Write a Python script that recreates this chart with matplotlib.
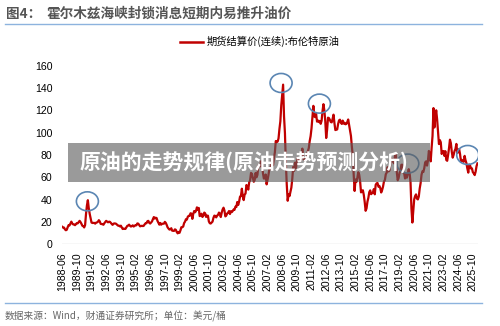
import matplotlib
matplotlib.use("Agg")
import numpy as np
import matplotlib.pyplot as plt
from matplotlib.patches import Ellipse, Rectangle
from matplotlib.lines import Line2D

plt.rcParams['font.family'] = ['Liberation Sans', 'Noto Sans CJK SC', 'DejaVu Sans']
CJK = ['Noto Sans CJK SC', 'DejaVu Sans']

# monthly Brent settlement, starting 1988-06 (USD/bbl)
brent_1988_1999 = [
    15.7, 14.9, 15.0, 13.4, 12.6, 13.0, 15.3,
    17.2, 16.9, 18.7, 20.3, 18.6, 17.8, 17.8, 17.1, 18.0, 19.0, 18.8, 19.9,
    21.0, 19.9, 18.4, 16.6, 16.3, 15.1, 17.2, 27.2, 34.9, 39.5, 32.3, 27.3,
    23.6, 19.5, 19.1, 19.2, 19.2, 18.5, 19.4, 19.6, 20.2, 21.6, 20.5, 18.3,
    18.2, 18.0, 17.5, 18.9, 19.9, 21.0, 20.3, 19.7, 20.2, 20.2, 19.2, 18.3,
    17.4, 18.5, 18.7, 18.6, 18.3, 17.4, 16.7, 16.7, 16.0, 16.7, 15.1, 13.7,
    14.1, 13.8, 13.8, 15.1, 16.5, 16.8, 17.6, 16.6, 15.9, 16.3, 17.0, 15.9,
    16.6, 17.2, 17.0, 18.7, 18.5, 17.3, 16.1, 16.3, 16.6, 16.3, 16.6, 17.9,
    18.9, 18.9, 20.7, 21.0, 19.2, 18.6, 19.6, 20.5, 22.6, 24.4, 23.0, 23.8,
    23.5, 20.9, 19.2, 17.6, 19.1, 17.6, 18.4, 18.5, 18.5, 20.1, 19.2, 17.4,
    15.2, 14.1, 13.2, 13.4, 14.4, 12.2, 12.1, 12.0, 13.4, 12.9, 11.0, 9.8,
    11.1, 10.3, 12.5, 15.3, 15.3, 15.9, 19.0, 20.3, 22.5, 22.1, 24.6, 25.5,
]
brent_2000_2009 = [
    25.5, 27.8, 27.5, 22.8, 27.3, 29.8, 28.7, 30.0, 33.1, 30.9, 32.6, 25.3,
    25.7, 27.4, 24.5, 25.7, 28.4, 27.7, 24.5, 25.7, 25.6, 20.5, 18.9, 18.6,
    19.4, 20.3, 23.7, 25.7, 25.4, 24.1, 25.7, 26.3, 28.4, 27.5, 24.4, 28.3,
    31.2, 32.8, 30.3, 25.0, 25.8, 27.6, 28.4, 29.8, 27.1, 29.6, 28.8, 29.8,
    31.2, 30.9, 33.8, 33.4, 37.9, 35.2, 38.2, 42.7, 43.2, 49.8, 43.1, 39.6,
    44.5, 45.5, 53.1, 51.9, 49.0, 55.6, 57.1, 63.9, 63.1, 59.5, 56.0, 57.6,
    63.9, 60.0, 62.3, 70.4, 70.9, 69.8, 74.4, 73.0, 63.8, 58.9, 59.1, 62.5,
    53.7, 57.6, 62.1, 67.4, 67.5, 71.3, 77.2, 70.8, 77.1, 82.3, 92.5, 91.5,
    92.0, 94.8, 103.3, 110.2, 124.6, 133.5, 143.0, 114.6, 99.6, 72.7, 53.2, 39.0,
    44.9, 43.2, 46.8, 50.8, 58.6, 69.3, 65.8, 73.1, 68.2, 73.9, 77.5, 75.2,
]
brent_2010_2019 = [
    77.0, 74.8, 79.9, 85.7, 77.0, 75.7, 75.6, 77.1, 78.2, 83.5, 86.1, 92.4,
    96.9, 104.0, 114.6, 124.0, 114.5, 113.9, 116.7, 109.9, 110.9, 109.5, 110.5, 107.9,
    110.7, 119.3, 125.5, 119.8, 110.3, 95.2, 102.6, 113.4, 113.0, 111.5, 109.5, 109.2,
    112.3, 116.1, 108.5, 102.3, 102.6, 102.9, 107.7, 111.0, 111.6, 109.1, 107.8, 110.8,
    108.1, 108.9, 107.5, 107.8, 109.5, 111.8, 106.8, 101.6, 97.1, 87.4, 79.4, 62.3,
    47.8, 58.1, 55.9, 59.5, 64.6, 62.3, 56.5, 46.5, 47.6, 48.4, 44.3, 38.0,
    30.0, 32.2, 38.2, 41.6, 46.7, 48.3, 44.9, 45.8, 46.6, 49.5, 44.8, 53.3,
    54.6, 54.9, 51.6, 52.3, 50.3, 46.4, 48.5, 51.7, 56.2, 57.5, 62.7, 64.2,
    69.1, 65.3, 66.0, 72.1, 76.9, 74.4, 74.3, 72.5, 78.9, 81.0, 64.8, 57.4,
    59.4, 64.0, 66.1, 71.2, 71.3, 64.2, 63.9, 59.0, 62.8, 59.7, 63.2, 67.3,
]
brent_2020_2026 = [
    63.7, 55.5, 32.0, 19.5, 29.4, 40.3, 43.2, 44.7, 40.9, 40.2, 42.7, 49.9,
    54.8, 62.3, 65.4, 64.8, 68.3, 73.4, 74.3, 70.5, 74.9, 83.6, 80.8, 74.3,
    86.5, 97.1, 122.0, 104.6, 113.3, 120.0, 111.9, 100.5, 89.8, 93.3, 91.4, 80.9,
    83.1, 83.5, 79.2, 83.4, 75.5, 74.8, 80.1, 86.2, 93.7, 90.6, 82.9, 77.6,
    80.1, 83.5, 85.4, 89.9, 81.8, 82.6, 85.3, 80.9, 74.3, 75.6, 74.4, 73.9,
    79.2, 75.2, 72.6, 67.8, 64.2, 71.4, 70.5, 67.9, 68.0, 64.5, 63.6, 62.0,
    65.0, 70.0, 72.5,
]
prices = brent_1988_1999 + brent_2000_2009 + brent_2010_2019 + brent_2020_2026

tick_labels = ['1988-06', '1989-10', '1991-02', '1992-06', '1993-10', '1995-02',
               '1996-06', '1997-10', '1999-02', '2000-06', '2001-10', '2003-02',
               '2004-06', '2005-10', '2007-02', '2008-06', '2009-10', '2011-02',
               '2012-06', '2013-10', '2015-02', '2016-06', '2017-10', '2019-02',
               '2020-06', '2021-10', '2023-02', '2024-06', '2025-10']
tick_step = 16  # months between labels

# highlighted spots (month index from 1988-06, price)
circle_months = [27.5, 238.8, 280.6, 377.0, 442.4]
circle_prices = [38.5, 144.5, 126.0, 72.3, 80.0]

fig = plt.figure(figsize=(5.0, 3.26), dpi=100)
ax = fig.add_axes([0.124, 0.2506, 0.832, 0.548])

months = np.arange(len(prices))
ax.plot(months, prices, color='#c00000', linewidth=1.6, solid_joinstyle='round')

for m, p in zip(circle_months, circle_prices):
    ax.add_patch(Ellipse((m, p), width=24, height=17, fill=False,
                         edgecolor='#5b86b3', linewidth=1.2, zorder=4))

ax.set_xlim(-0.2, 453.6)
ax.set_ylim(0, 160)
ax.set_yticks(np.arange(0, 161, 20))
ax.set_xticks(np.arange(len(tick_labels)) * tick_step)
ax.set_xticklabels(tick_labels, rotation=90)
ax.tick_params(axis='both', length=0, labelsize=7.6, colors='#000000')
ax.tick_params(axis='y', pad=7)
ax.tick_params(axis='x', pad=6)
for s in ax.spines.values():
    s.set_visible(False)
ax.axhline(0, color='#d9d9d9', linewidth=1.0, zorder=0)

# title and rules
fig.text(0.012, 0.958, '图4：', fontsize=9.8, fontweight='bold', color='#555555',
         family=CJK, va='center')
fig.text(0.092, 0.958, '霍尔木兹海峡封锁消息短期内易推升油价', fontsize=9.8,
         fontweight='bold', color='#555555', family=CJK, va='center')
fig.add_artist(Line2D([0.01, 0.964], [0.926, 0.926], color='#8db3de', linewidth=1.0))
fig.add_artist(Line2D([0.01, 0.964], [0.071, 0.071], color='#8db3de', linewidth=1.0))

# legend
fig.add_artist(Line2D([0.36, 0.406], [0.872, 0.872], color='#c00000', linewidth=1.8))
fig.text(0.413, 0.872, '期货结算价(连续):布伦特原油', fontsize=7.4, color='#000000',
         family=CJK, va='center')

# source note
fig.text(0.01, 0.03, '数据来源：Wind，财通证券研究所；单位：美元/桶', fontsize=7.0,
         color='#666666', family=CJK, va='center')

# watermark banner
fig.add_artist(Rectangle((0.136, 0.442), 0.724, 0.12, transform=fig.transFigure,
                         facecolor='#5c5c5c', alpha=0.62, edgecolor='none', zorder=5))
fig.text(0.16, 0.502, '原油的走势规律(原油走势预测分析)', fontsize=15, fontweight='bold',
         color='white', family=CJK, va='center', zorder=6)

fig.savefig('out.png', dpi=100)
